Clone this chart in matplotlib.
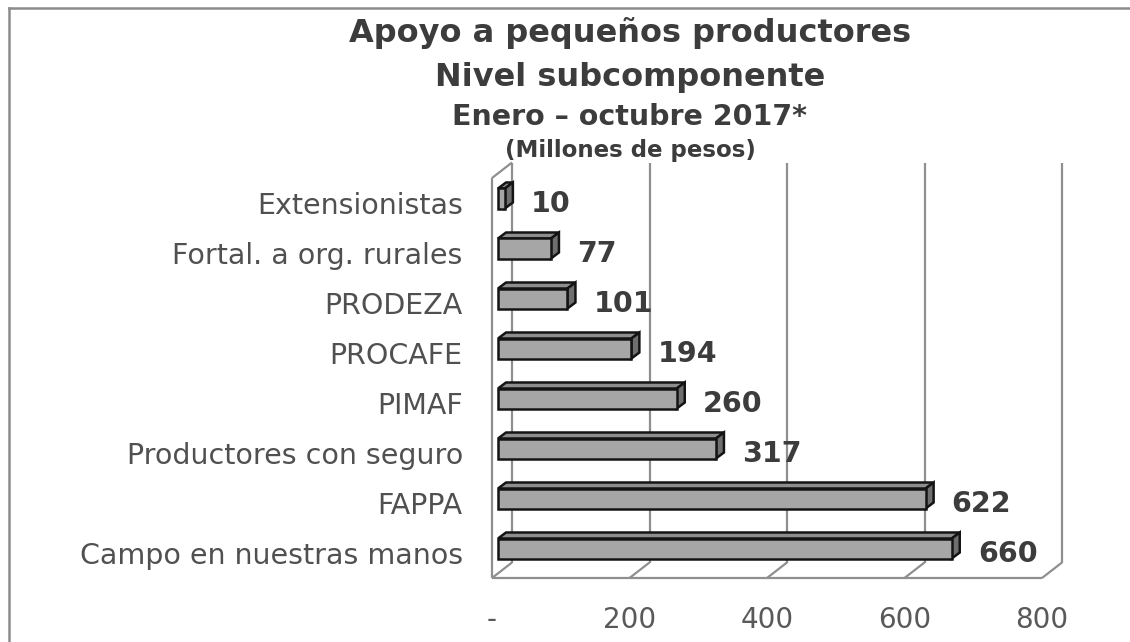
import matplotlib
matplotlib.use("Agg")
import matplotlib.pyplot as plt
from matplotlib.patches import Polygon
from matplotlib.lines import Line2D

# ---- data (top to bottom as shown) ----
categories = ["Extensionistas", "Fortal. a org. rurales", "PRODEZA", "PROCAFE",
              "PIMAF", "Productores con seguro", "FAPPA", "Campo en nuestras manos"]
values = [10, 77, 101, 194, 260, 317, 622, 660]
xticks = [0, 200, 400, 600, 800]
xticklabels = ["-", "200", "400", "600", "800"]
title_lines = ["Apoyo a pequeños productores", "Nivel subcomponente",
               "Enero – octubre 2017*", "(Millones de pesos)"]

W, H, DPI = 1130, 642, 100
fig = plt.figure(figsize=(W / DPI, H / DPI), dpi=DPI)
fig.patch.set_facecolor("white")

# front plane of the 3D box
ax = fig.add_axes([492 / W, 64 / H, 550 / W, 400 / H])
ax.set_xlim(0, 800)
ax.set_ylim(-0.5, len(categories) - 0.5)
for s in ax.spines.values():
    s.set_visible(False)
ax.patch.set_alpha(0)

n = len(categories)
pos = [n - 1 - i for i in range(n)]  # top category at highest y

# pixel -> data conversion
sx = 800 / 550.0
sy = n / 400.0
def off(px, py):
    return px * sx, py * sy

wall_dx, wall_dy = off(20, 15.5)
bp_dx, bp_dy = off(6, 4.5)
dep_dx, dep_dy = off(8, 6)

wall_c = "#8f8f8f"
wall_lw = 1.6
ymin, ymax = -0.5, n - 0.5
kw = dict(color=wall_c, lw=wall_lw, clip_on=False, zorder=1, solid_capstyle="butt")
# back wall gridlines
for xv in xticks:
    ax.plot([xv + wall_dx, xv + wall_dx], [ymin + wall_dy, ymax + wall_dy], **kw)
    # floor slants
    ax.plot([xv, xv + wall_dx], [ymin, ymin + wall_dy], **kw)
# floor front edge
ax.plot([0, 800], [ymin, ymin], **kw)
# left wall front edge and top slant
ax.plot([0, 0], [ymin, ymax], **kw)
ax.plot([0, wall_dx], [ymax, ymax + wall_dy], **kw)

# bars
bh = 0.4
front_c = "#a6a6a6"
top_c = "#8e8e8e"
side_c = "#6f6f6f"
edge_c = "#141414"
elw = 1.8
ax.barh([p + bp_dy for p in pos], values, left=bp_dx, height=bh, color=front_c,
        edgecolor=edge_c, linewidth=elw, zorder=4, clip_on=False)
for p, v in zip(pos, values):
    x0, x1 = bp_dx, bp_dx + v
    yb, yt = p + bp_dy - bh / 2, p + bp_dy + bh / 2
    top = Polygon([(x0, yt), (x1, yt), (x1 + dep_dx, yt + dep_dy), (x0 + dep_dx, yt + dep_dy)],
                  closed=True, facecolor=top_c, edgecolor=edge_c, lw=elw, zorder=3,
                  clip_on=False, joinstyle="miter")
    side = Polygon([(x1, yb), (x1 + dep_dx, yb + dep_dy), (x1 + dep_dx, yt + dep_dy), (x1, yt)],
                   closed=True, facecolor=side_c, edgecolor=edge_c, lw=elw, zorder=3,
                   clip_on=False, joinstyle="miter")
    ax.add_patch(top)
    ax.add_patch(side)
    ax.annotate(str(v), xy=(v, p), xytext=(32 * 72 / DPI, -9 * 72 / DPI),
                textcoords="offset points", ha="left", va="baseline",
                fontsize=20.5, fontweight="bold", color="#3c3c3c",
                family="DejaVu Sans", annotation_clip=False)

# axis labels
ax.set_yticks(pos)
ax.set_yticklabels(categories, fontsize=20.5, color="#505050", family="DejaVu Sans")
ax.tick_params(axis="y", length=0, pad=21)
ax.set_xticks(xticks)
ax.set_xticklabels(xticklabels, fontsize=20, color="#595959", family="DejaVu Sans")
ax.tick_params(axis="x", length=0, pad=20.5)

# titles
cx = 630 / W
sizes = [23, 23, 20.5, 16.5]
baselines = [42, 86, 125, 157]
for t, s, b in zip(title_lines, sizes, baselines):
    fig.text(cx, 1 - b / H, t, ha="center", va="baseline", fontsize=s,
             fontweight="bold", color="#3c3c3c", family="DejaVu Sans")

# chart border (only left and top visible)
fig.add_artist(Line2D([9 / W, 9 / W], [0, 1 - 7.5 / H], color="#8c8c8c", lw=1.8,
                      transform=fig.transFigure))
fig.add_artist(Line2D([9 / W, 1], [1 - 7.5 / H, 1 - 7.5 / H], color="#8c8c8c", lw=1.8,
                      transform=fig.transFigure))

fig.savefig("out.png", dpi=DPI, facecolor="white")
